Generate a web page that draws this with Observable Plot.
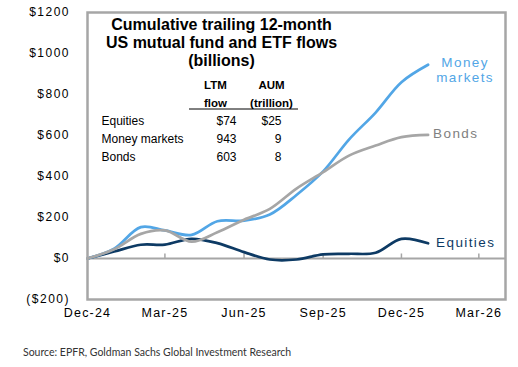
<!DOCTYPE html>
<html>
<head>
<meta charset="utf-8">
<script src="https://cdn.jsdelivr.net/npm/d3@7"></script>
<script src="https://cdn.jsdelivr.net/npm/@observablehq/plot@0.6"></script>
<style>
  body { margin: 0; background: #fff; }
  #chart svg { display: block; }
  #chart g[aria-label="y-axis tick label"] text { letter-spacing: 1.5px; }
  #chart g[aria-label="x-axis tick label"] text { letter-spacing: 1.2px; }
  #chart .endlabel text { letter-spacing: 1.4px; }
  #source { font-family: Lato, "Open Sans", sans-serif; font-size: 10.5px; color: #333; padding-left: 23px; margin-top: 15px; line-height: 14px; }
</style>
</head>
<body>
<div id="chart"></div>
<div id="source">Source: EPFR, Goldman Sachs Global Investment Research</div>
<script>
// ---- Data ----
const months = ["2024-12","2025-01","2025-02","2025-03","2025-04","2025-05","2025-06","2025-07","2025-08","2025-09","2025-10","2025-11","2025-12","2026-01"];
const equities     = [0, 34, 67, 68, 96, 75, 31, -5, -5, 20, 23, 28, 96, 74];
const moneyMarkets = [0, 48, 153, 137, 115, 182, 185, 215, 310, 425, 580, 712, 860, 945];
const bonds        = [0, 45, 120, 137, 82, 128, 189, 242, 341, 421, 502, 551, 592, 603];

const seriesNames  = ["Equities", "Money markets", "Bonds"];
const seriesColors = ["#0d3a64", "#52a6e6", "#a6a6a6"];
const labelColors  = ["#0d3a64", "#52a6e6", "#808080"];

const xTickMonths  = ["2024-12","2025-03","2025-06","2025-09","2025-12","2026-03"];
const xTickLabels  = ["Dec-24","Mar-25","Jun-25","Sep-25","Dec-25","Mar-26"];
const xDomain      = ["2024-12","2026-04"];
const yTicks       = [-200, 0, 200, 400, 600, 800, 1000, 1200];

const titleLines   = ["Cumulative trailing 12-month", "US mutual fund and ETF flows", "(billions)"];
const tableRows    = ["Equities", "Money markets", "Bonds"];
const ltmFlow      = ["$74", "943", "603"];
const aumTrillion  = ["$25", "9", "8"];

// ---- Build table ----
const parse = d3.utcParse("%Y-%m");
const valuesBySeries = [equities, moneyMarkets, bonds];
const data = seriesNames.flatMap((s, k) =>
  months.map((m, i) => ({ date: parse(m), value: valuesBySeries[k][i], series: s }))
);
const tickDates = xTickMonths.map(parse);
const fmtX = new Map(tickDates.map((d, i) => [+d, xTickLabels[i]]));
const fmtY = d => d < 0 ? `($${-d})` : `$${d}`;

const font = "Liberation Sans, Arial, sans-serif";
const last = s => data.filter(d => d.series === s).slice(-1);

const underline = (index, scales, values, dims) => {
  const l = d3.create("svg:line")
    .attr("x1", dims.marginLeft + 102).attr("x2", dims.marginLeft + 211)
    .attr("y1", dims.marginTop + 97).attr("y2", dims.marginTop + 97)
    .attr("stroke", "#000").attr("stroke-width", 1);
  return l.node();
};

const chart = Plot.plot({
  width: 518,
  height: 330,
  marginLeft: 87,
  marginRight: 13,
  marginTop: 12,
  marginBottom: 31,
  style: { fontFamily: font, fontSize: "12px", background: "#fff", overflow: "visible", color: "#000" },
  x: { type: "utc", domain: xDomain.map(parse), ticks: tickDates, tickFormat: d => fmtX.get(+d), tickSize: 0, tickPadding: 9, label: null, fontSize: 12.5 },
  y: { domain: [-200, 1200], ticks: yTicks, tickFormat: fmtY, tickSize: 0, tickPadding: 17.5, label: null },
  color: { domain: seriesNames, range: seriesColors },
  marks: [
    Plot.axisX({ ticks: tickDates, tickFormat: d => fmtX.get(+d), tickSize: 0, tickPadding: 9, label: null, fontSize: 12.5 }),
    Plot.axisY({ ticks: yTicks, tickFormat: fmtY, tickSize: 0, tickPadding: 17.5, label: null, fontSize: 12 }),
    Plot.ruleY([0], { stroke: "#a6a6a6", strokeWidth: 2 }),
    Plot.ruleX(tickDates.slice(1), { y1: 0, y2: 22, stroke: "#a6a6a6", strokeWidth: 1.5 }),
    Plot.line(data, { x: "date", y: "value", z: "series", stroke: "series", strokeWidth: 2.7, curve: "catmull-rom" }),
    Plot.frame({ stroke: "#a6a6a6", strokeWidth: 2.5 }),
    // end labels
    Plot.text(last("Money markets"), { x: "date", y: "value", text: () => "Money\nmarkets", dx: 37, dy: 5, textAnchor: "middle", lineHeight: 1.1, fill: labelColors[1], fontSize: 13.5, className: "endlabel" }),
    Plot.text(last("Bonds"), { x: "date", y: "value", text: "series", dx: 5, dy: -1, textAnchor: "start", fill: labelColors[2], fontSize: 13.5, className: "endlabel" }),
    Plot.text(last("Equities"), { x: "date", y: "value", text: "series", dx: 8, dy: -1, textAnchor: "start", fill: labelColors[0], fontSize: 13.5, className: "endlabel" }),
    // inset title
    Plot.text([titleLines.join("\n")], { frameAnchor: "top-left", dx: 134, dy: 30, textAnchor: "middle", lineAnchor: "middle", lineHeight: 1.12, fontWeight: "bold", fontSize: 16, fill: "#000" }),
    // table headers
    Plot.text(["LTM\nflow"], { frameAnchor: "top-left", dx: 128, dy: 80, textAnchor: "middle", lineAnchor: "middle", lineHeight: 1.55, fontWeight: "bold", fontSize: 11.5, fill: "#000" }),
    Plot.text(["AUM\n(trillion)"], { frameAnchor: "top-left", dx: 184, dy: 80, textAnchor: "middle", lineAnchor: "middle", lineHeight: 1.55, fontWeight: "bold", fontSize: 11.5, fill: "#000" }),
    underline,
    Plot.text([tableRows.join("\n")], { frameAnchor: "top-left", dx: 14, dy: 125, textAnchor: "start", lineAnchor: "middle", lineHeight: 1.5, fontSize: 12, fill: "#000" }),
    Plot.text([ltmFlow.join("\n")], { frameAnchor: "top-left", dx: 149, dy: 125, textAnchor: "end", lineAnchor: "middle", lineHeight: 1.5, fontSize: 12, fill: "#000" }),
    Plot.text([aumTrillion.join("\n")], { frameAnchor: "top-left", dx: 194, dy: 125, textAnchor: "end", lineAnchor: "middle", lineHeight: 1.5, fontSize: 12, fill: "#000" })
  ]
});
document.getElementById("chart").append(chart);
</script>
</body>
</html>
